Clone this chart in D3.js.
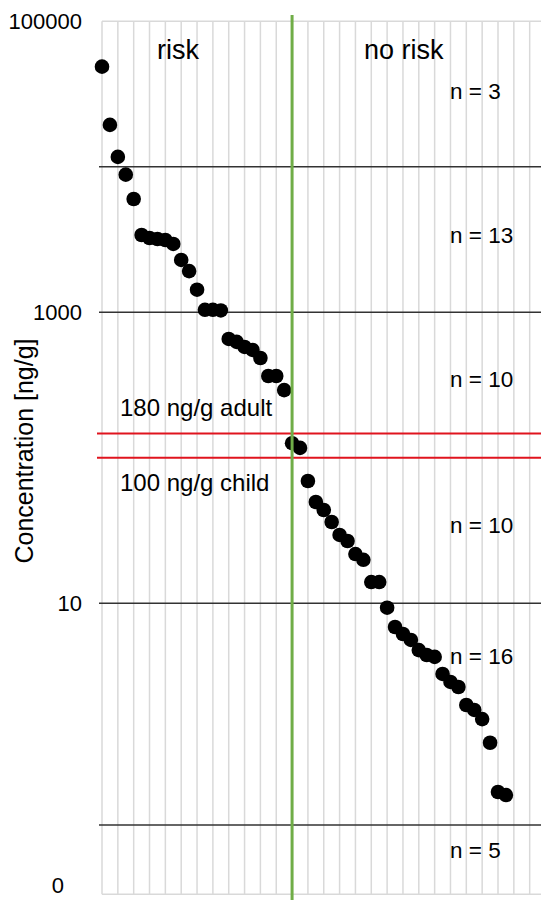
<!DOCTYPE html>
<html>
<head>
<meta charset="utf-8">
<script src="https://cdn.jsdelivr.net/npm/d3@7"></script>
<style>
  html, body { margin: 0; padding: 0; background: #fff; }
  svg { display: block; font-family: "Liberation Sans", Arial, sans-serif; }
</style>
</head>
<body>
<svg id="chart" width="541" height="900"></svg>
<script>
(function() {
  // concentrations, sorted high to low (ng/g)
  var concentrations = [
    48800, 19400, 11700, 8830, 6010, 3400, 3240, 3190, 3140, 2950,
    2290, 1920, 1430, 1040, 1040, 1030,
    656, 626, 578, 551, 485, 365, 365, 292, 126, 117,
    69.3, 49.7, 43.8, 36.2, 29.5, 26.8, 21.8, 19.9, 14.0, 14.0,
    9.33, 6.87, 6.15, 5.60, 4.77, 4.41, 4.28, 3.27, 2.88, 2.66,
    2.00, 1.85, 1.60, 1.10, 0.505, 0.481
  ];
  var sampleCount = 57;
  var riskSplit = 24;
  var groupBounds = [10000, 1000, 10, 0.3];
  var groupLabels = ['n = 3', 'n = 13', 'n = 10', 'n = 10', 'n = 16', 'n = 5'];
  var thresholdValues = [147, 100];
  var thresholdLabels = ['180 ng/g adult', '100 ng/g child'];
  var zoneLabels = ['risk', 'no risk'];
  var tickValues = [100000, 1000, 10, 0.1];
  var yTitle = 'Concentration [ng/g]';

  var svg, x, y, yAxis, gridX, i;

  svg = d3.select('#chart');

  x = d3.scaleLinear().domain([0, sampleCount - 1]).range([102, 102 + (sampleCount - 1) * 7.92]);
  y = d3.scaleLog().domain([0.1, 100000]).range([894.3, 21.3]);

  // vertical light gridlines every 2 samples
  gridX = [];
  for (i = 0; i < sampleCount; i += 2) gridX.push(i);
  svg.append('g').selectAll('line').data(gridX).enter().append('line')
    .attr('x1', function(d) { return x(d); })
    .attr('x2', function(d) { return x(d); })
    .attr('y1', y(100000)).attr('y2', y(0.1))
    .attr('stroke', '#d9d9d9').attr('stroke-width', 1.5);

  // top/bottom frame
  svg.append('g').selectAll('line').data([100000, 0.1]).enter().append('line')
    .attr('x1', x(0)).attr('x2', 541)
    .attr('y1', function(d) { return y(d); })
    .attr('y2', function(d) { return y(d); })
    .attr('stroke', '#d9d9d9').attr('stroke-width', 1.5);

  // group separators
  svg.append('g').selectAll('line').data(groupBounds).enter().append('line')
    .attr('x1', x(0) - 3).attr('x2', 541)
    .attr('y1', function(d) { return y(d); })
    .attr('y2', function(d) { return y(d); })
    .attr('stroke', '#333').attr('stroke-width', 1.5);

  // threshold lines
  svg.append('g').selectAll('line').data(thresholdValues).enter().append('line')
    .attr('x1', x(0) - 5).attr('x2', 541)
    .attr('y1', function(d) { return y(d); })
    .attr('y2', function(d) { return y(d); })
    .attr('stroke', '#e0141e').attr('stroke-width', 2);

  // y axis
  yAxis = d3.axisLeft(y).tickValues(tickValues).tickFormat(d3.format('d')).tickSize(0).tickPadding(20);
  svg.append('g').attr('transform', 'translate(' + x(0) + ',0)').call(yAxis)
    .call(function(g) {
      g.select('.domain').remove();
      g.selectAll('text').attr('font-size', 22).attr('fill', '#000')
        .attr('font-family', '"Liberation Sans", Arial, sans-serif');
      // bottom label sits further left and is clipped in the original; keep it inside
      g.selectAll('.tick').filter(function(d) { return d === 0.1; })
        .select('text').attr('dx', -18).attr('y', -9);
    });

  svg.append('text')
    .attr('transform', 'translate(33,451) rotate(-90)')
    .attr('text-anchor', 'middle').attr('font-size', 25)
    .text(yTitle);

  // points
  svg.append('g').selectAll('circle').data(concentrations).enter().append('circle')
    .attr('cx', function(d, i) { return x(i); })
    .attr('cy', function(d) { return y(d); })
    .attr('r', 7.3).attr('fill', '#000');

  // risk divider
  svg.append('line')
    .attr('x1', x(riskSplit)).attr('x2', x(riskSplit))
    .attr('y1', 15).attr('y2', 900)
    .attr('stroke', '#70ad47').attr('stroke-width', 3);

  // labels
  svg.append('g').selectAll('text').data(zoneLabels).enter().append('text')
    .attr('x', function(d, i) { return [157, 364][i]; })
    .attr('y', 59).attr('font-size', 27)
    .text(function(d) { return d; });

  svg.append('g').selectAll('text').data(groupLabels).enter().append('text')
    .attr('x', 450)
    .attr('y', function(d, i) { return [99, 243, 387, 533, 664, 858][i]; })
    .attr('font-size', 22.5)
    .text(function(d) { return d; });

  svg.append('g').selectAll('text').data(thresholdLabels).enter().append('text')
    .attr('x', 120)
    .attr('y', function(d, i) { return [416, 491][i]; })
    .attr('font-size', 24)
    .text(function(d) { return d; });
})();
</script>
</body>
</html>
